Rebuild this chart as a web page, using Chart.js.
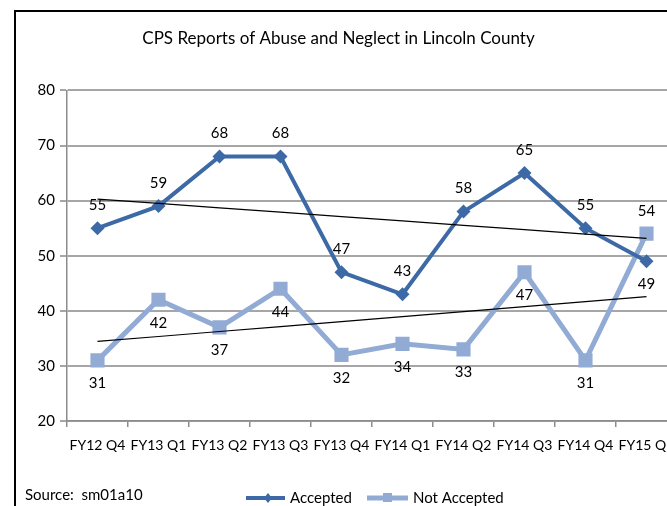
<!DOCTYPE html>
<html>
<head>
<meta charset="utf-8">
<script src="https://cdn.jsdelivr.net/npm/chart.js@4"></script>
<style>
  html, body { margin: 0; padding: 0; background: #fff; overflow: hidden; }
  #wrap { width: 700px; height: 506px; }
</style>
</head>
<body>
<div id="wrap"><canvas id="myChart" width="700" height="506"></canvas></div>
<script>
const categories = ["FY12 Q4", "FY13 Q1", "FY13 Q2", "FY13 Q3", "FY13 Q4", "FY14 Q1", "FY14 Q2", "FY14 Q3", "FY14 Q4", "FY15 Q1"];
const accepted = [55, 59, 68, 68, 47, 43, 58, 65, 55, 49];
const notAccepted = [31, 42, 37, 44, 32, 34, 33, 47, 31, 54];
const yTicks = [20, 30, 40, 50, 60, 70, 80];

const FONT = "Lato, sans-serif";
const DARK = "#3d6aa6";
const LIGHT = "#92abd5";

// linear trend (least squares), like the Excel trendline
function trend(values) {
  const n = values.length;
  let sx = 0, sy = 0, sxy = 0, sxx = 0;
  values.forEach((v, i) => { sx += i; sy += v; sxy += i * v; sxx += i * i; });
  const slope = (n * sxy - sx * sy) / (n * sxx - sx * sx);
  const icpt = (sy - slope * sx) / n;
  return values.map((v, i) => icpt + slope * i);
}

const pointLabels = {
  id: "pointLabels",
  afterDatasetsDraw(chart) {
    const ctx = chart.ctx;
    ctx.save();
    ctx.font = "15px " + FONT;
    ctx.fillStyle = "#000";
    ctx.textAlign = "center";
    ctx.textBaseline = "middle";
    [0, 1].forEach((di) => {
      const meta = chart.getDatasetMeta(di);
      const own = chart.data.datasets[di].data;
      const other = chart.data.datasets[1 - di].data;
      meta.data.forEach((pt, i) => {
        const above = own[i] >= other[i];
        const y = above ? pt.y - 23 : pt.y + 23;
        ctx.fillText(String(own[i]), pt.x, y);
      });
    });
    ctx.restore();
  },
};

const frame = {
  id: "frame",
  afterDraw(chart) {
    const ctx = chart.ctx;
    ctx.save();
    ctx.strokeStyle = "#000";
    ctx.lineWidth = 2;
    ctx.beginPath();
    ctx.moveTo(15, 520);
    ctx.lineTo(15, 11);
    ctx.lineTo(720, 11);
    ctx.stroke();

    ctx.font = "15px " + FONT;
    ctx.fillStyle = "#000";
    ctx.textBaseline = "middle";
    ctx.textAlign = "left";
    ctx.fillText("Source:  sm01a10", 25, 495);

    // legend
    const ly = 498;
    ctx.lineWidth = 4;
    ctx.strokeStyle = DARK;
    ctx.beginPath(); ctx.moveTo(246, ly); ctx.lineTo(285, ly); ctx.stroke();
    ctx.fillStyle = DARK;
    ctx.beginPath();
    ctx.moveTo(268, ly - 5); ctx.lineTo(272, ly); ctx.lineTo(268, ly + 5); ctx.lineTo(264, ly);
    ctx.closePath(); ctx.fill();
    ctx.fillStyle = "#000";
    ctx.fillText("Accepted", 290, ly);

    ctx.lineWidth = 5;
    ctx.strokeStyle = LIGHT;
    ctx.beginPath(); ctx.moveTo(367, ly); ctx.lineTo(408, ly); ctx.stroke();
    ctx.fillStyle = LIGHT;
    ctx.fillRect(383, ly - 5, 9, 9);
    ctx.fillStyle = "#000";
    ctx.fillText("Not Accepted", 413, ly);
    ctx.restore();
  },
};

new Chart(document.querySelector("#myChart"), {
  type: "line",
  data: {
    labels: categories,
    datasets: [
      {
        label: "Accepted",
        data: accepted,
        borderColor: DARK,
        backgroundColor: DARK,
        borderWidth: 4,
        pointStyle: "rectRot",
        pointRadius: 7,
        pointBorderWidth: 0,
        tension: 0,
        order: 2,
      },
      {
        label: "Not Accepted",
        data: notAccepted,
        borderColor: LIGHT,
        backgroundColor: LIGHT,
        borderWidth: 5,
        pointStyle: "rect",
        pointRadius: 10,
        pointBorderWidth: 0,
        tension: 0,
        order: 3,
      },
      {
        label: "trendA",
        data: trend(accepted),
        borderColor: "#000",
        borderWidth: 1.2,
        pointRadius: 0,
        order: 1,
      },
      {
        label: "trendN",
        data: trend(notAccepted),
        borderColor: "#000",
        borderWidth: 1.2,
        pointRadius: 0,
        order: 1,
      },
    ],
  },
  options: {
    responsive: false,
    animation: false,
    layout: { padding: { left: 0, right: 23, top: 0, bottom: 0 } },
    plugins: {
      legend: { display: false },
      tooltip: { enabled: false },
      title: {
        display: true,
        text: "CPS Reports of Abuse and Neglect in Lincoln County",
        color: "#000",
        font: { family: FONT, size: 17, weight: "normal" },
        padding: { top: 28, bottom: 42 },
      },
    },
    scales: {
      x: {
        offset: true,
        afterFit(scale) { scale.height = 85; },
        grid: {
          offset: true,
          drawOnChartArea: false,
          drawTicks: true,
          tickLength: 6,
          color: "#8c8c8c",
          lineWidth: 1.5,
        },
        border: { color: "#8c8c8c", width: 1.5 },
        ticks: {
          color: "#000",
          font: { family: FONT, size: 14 },
          padding: 10,
          maxRotation: 0,
          autoSkip: false,
        },
      },
      y: {
        min: 20,
        max: 80,
        afterFit(scale) { scale.width = 67; },
        afterBuildTicks(scale) { scale.ticks = yTicks.map((v) => ({ value: v })); },
        grid: {
          color: "#a6a6a6",
          lineWidth: 2,
          tickLength: 7,
        },
        border: { color: "#8c8c8c", width: 1.5 },
        ticks: {
          color: "#000",
          font: { family: FONT, size: 15 },
          padding: 5,
        },
      },
    },
  },
  plugins: [pointLabels, frame],
});
</script>
</body>
</html>
